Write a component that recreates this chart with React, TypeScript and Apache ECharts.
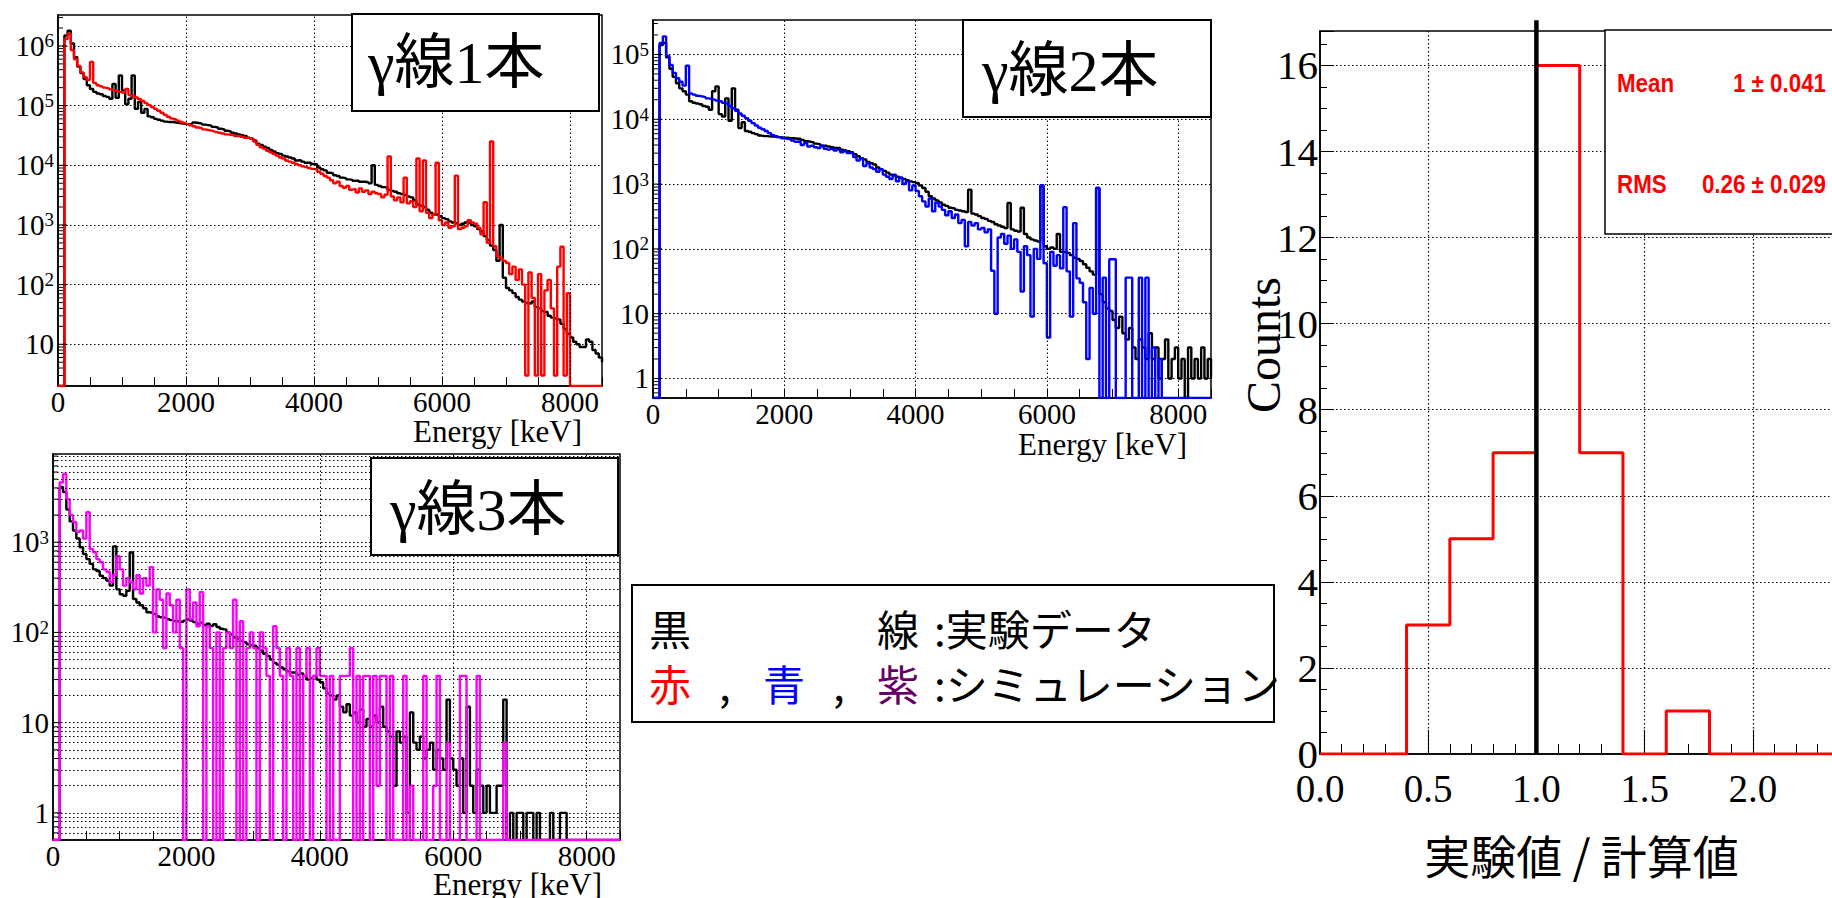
import React, { useEffect, useRef } from "react";
import * as echarts from "echarts";

// ---------------- data ----------------
const BIN_WIDTH = 50; // keV, bin lower edges 0..8500
const ENERGY_MAX = 8500;
const ENERGY_TICK_STEP = 500;
const ENERGY_LABEL_STEP = 2000;
const ENERGY_GRID = [2000, 4000, 6000, 8000];

// γ線1本 : experiment (black) / simulation (red)
const EXP1 = [
  0, 0, 1.5e6, 1.8e6, 1.1e6, 6.5e5, 4.5e5, 3.5e5, 2.8e5, 2.2e5, 1.9e5, 1.7e5, 1.6e5, 1.55e5, 1.45e5, 1.4e5, 1.3e5, 2.3e5, 1.35e5, 3.2e5,
  1.8e5, 1.05e5, 1.3e5, 3.2e5, 8.8e4, 1.15e5, 7.6e4, 8.8e4, 6.6e4, 6.4e4, 6.0e4, 5.8e4, 5.6e4, 5.4e4, 5.3e4, 5.3e4, 5.2e4, 5.1e4, 5.0e4, 4.9e4,
  4.9e4, 4.9e4, 5.2e4, 5.1e4, 5.0e4, 4.8e4, 4.7e4, 4.6e4, 4.4e4, 4.3e4, 4.1e4, 4.0e4, 3.8e4, 3.7e4, 3.5e4, 3.4e4, 3.3e4, 3.2e4, 3.1e4, 2.9e4,
  2.8e4, 2.6e4, 2.3e4, 2.2e4, 2.05e4, 1.95e4, 1.8e4, 1.7e4, 1.6e4, 1.55e4, 1.45e4, 1.4e4, 1.35e4, 1.3e4, 1.2e4, 1.22e4, 1.15e4, 1.1e4, 1.1e4, 1.05e4,
  1.03e4, 9.2e3, 8.6e3, 8.2e3, 7.5e3, 7.3e3, 6.8e3, 6.6e3, 6.2e3, 6.1e3, 5.8e3, 5.7e3, 5.5e3, 5.5e3, 5.3e3, 5.3e3, 5.2e3, 5.0e3, 1.0e4, 4.7e3,
  4.5e3, 4.3e3, 4.2e3, 3.9e3, 3.7e3, 3.6e3, 3.4e3, 3.3e3, 3.2e3, 3.0e3, 2.9e3, 2.6e3, 2.2e3, 2.1e3, 2.0e3, 1.8e3, 1.6e3, 1.5e3, 1.5e3, 1.4e3,
  1.3e3, 1.25e3, 1.15e3, 1.1e3, 1.07e3, 1.0e3, 1.05e3, 1.1e3, 1.1e3, 1.0e3, 950, 850, 780, 650, 560, 450, 380, 250, 1000, 130,
  88, 80, 72, 62, 56, 52, 49, 48, 52, 42, 40, 36, 35, 30, 28, 27, 26, 22, 18, 15,
  13, 11, 10, 9, 9, 12, 11, 8, 7, 6, 5,
];
const SIM1 = [
  0, 0, 1.3e6, 1.6e6, 8.5e5, 6.0e5, 4.6e5, 3.6e5, 3.0e5, 2.7e5, 5.4e5, 2.4e5, 2.2e5, 2.1e5, 2.0e5, 1.95e5, 1.87e5, 1.8e5, 1.75e5, 1.7e5,
  1.65e5, 1.9e5, 1.5e5, 1.45e5, 1.37e5, 1.28e5, 1.2e5, 1.1e5, 1.02e5, 9.5e4, 8.8e4, 8.2e4, 7.6e4, 7.0e4, 6.5e4, 6.1e4, 5.9e4, 5.6e4, 5.3e4, 5.1e4,
  4.9e4, 4.7e4, 4.5e4, 4.3e4, 4.2e4, 4.0e4, 3.9e4, 3.8e4, 3.7e4, 3.6e4, 3.5e4, 3.4e4, 3.3e4, 3.25e4, 3.2e4, 3.1e4, 3.1e4, 3.0e4, 2.9e4, 2.85e4,
  2.8e4, 2.5e4, 2.2e4, 2.0e4, 1.9e4, 1.75e4, 1.65e4, 1.55e4, 1.45e4, 1.35e4, 1.3e4, 1.2e4, 1.15e4, 1.1e4, 1.05e4, 1.0e4, 9.6e3, 9.3e3, 9.0e3, 8.7e3,
  8.5e3, 7.8e3, 7.2e3, 6.6e3, 6.2e3, 5.6e3, 5.0e3, 5.3e3, 4.5e3, 4.2e3, 4.5e3, 3.9e3, 4.0e3, 3.5e3, 4.1e3, 3.6e3, 3.8e3, 3.3e3, 3.6e3, 3.4e3,
  3.3e3, 2.9e3, 3.2e3, 1.4e4, 3.0e3, 2.6e3, 2.9e3, 2.4e3, 6.2e3, 2.3e3, 2.5e3, 2.0e3, 1.3e4, 1.7e3, 1.2e4, 1.6e3, 1.3e3, 1.5e3, 1.1e4, 1.2e3,
  1.0e3, 1.1e3, 900, 950, 6.7e3, 850, 900, 950, 1.2e3, 1.1e3, 1.05e3, 900, 700, 2.4e3, 500, 2.5e4, 440, 300, 280, 250,
  230, 150, 200, 120, 180, 100, 3, 160, 60, 3, 150, 3, 80, 120, 40, 3, 200, 430, 3, 72,
  0, 0, 0, 0, 0, 0, 0, 0, 0, 0, 0,
];

// γ線2本 : experiment (black) / simulation (blue)
const EXP2 = [
  0, 0, 1.4e5, 1.5e5, 9.0e4, 6.0e4, 4.5e4, 3.6e4, 3.0e4, 2.7e4, 2.4e4, 1.9e4, 1.8e4, 1.75e4, 1.7e4, 1.6e4, 1.56e4, 1.4e4, 2.7e4, 3.2e4,
  1.2e4, 1.1e4, 2.1e4, 9.5e3, 3.0e4, 1.4e4, 7.3e3, 9.0e3, 6.6e3, 6.4e3, 6.1e3, 5.9e3, 5.6e3, 5.5e3, 5.5e3, 5.4e3, 5.4e3, 5.3e3, 5.3e3, 5.2e3,
  5.2e3, 5.1e3, 5.1e3, 5.0e3, 5.0e3, 4.8e3, 4.6e3, 4.5e3, 4.4e3, 4.2e3, 4.1e3, 3.9e3, 3.9e3, 3.8e3, 3.7e3, 3.6e3, 3.6e3, 3.4e3, 3.3e3, 3.2e3,
  3.1e3, 2.9e3, 2.7e3, 2.5e3, 2.4e3, 2.2e3, 2.1e3, 2.0e3, 1.8e3, 1.7e3, 1.6e3, 1.5e3, 1.4e3, 1.35e3, 1.3e3, 1.25e3, 1.2e3, 1.15e3, 1.1e3, 1.07e3,
  1040, 950, 870, 760, 650, 600, 560, 520, 480, 460, 430, 420, 400, 390, 380, 370, 820, 350, 340, 320,
  300, 290, 270, 260, 240, 230, 220, 210, 510, 200, 190, 185, 430, 170, 150, 140, 135, 130, 920, 110,
  100, 105, 100, 170, 90, 88, 86, 80, 73, 70, 65, 58, 51, 45, 40, 870, 20, 15, 12, 11,
  8, 6, 9, 5, 4, 6, 3, 2, 4, 3, 2, 5, 2, 3, 1, 2, 4, 1, 2, 3,
  1, 2, 0, 3, 1, 2, 1, 3, 1, 2, 1,
];
const SIM2 = [
  0, 0, 1.5e5, 1.9e5, 9.5e4, 6.9e4, 5.2e4, 4.3e4, 3.8e4, 3.3e4, 6.7e4, 2.5e4, 2.4e4, 2.3e4, 2.25e4, 2.2e4, 2.1e4, 2.05e4, 2.0e4, 1.95e4,
  1.9e4, 1.8e4, 1.75e4, 1.6e4, 1.48e4, 1.35e4, 1.23e4, 1.13e4, 1.04e4, 9.5e3, 8.7e3, 8.0e3, 7.4e3, 7.0e3, 6.6e3, 6.1e3, 5.7e3, 5.5e3, 5.3e3, 5.1e3,
  5.0e3, 4.9e3, 4.7e3, 4.5e3, 4.6e3, 4.0e3, 4.3e3, 3.8e3, 3.9e3, 3.7e3, 3.6e3, 3.9e3, 3.5e3, 3.4e3, 3.5e3, 3.3e3, 3.4e3, 3.1e3, 3.2e3, 3.0e3,
  3.0e3, 2.6e3, 2.3e3, 2.5e3, 1.9e3, 2.1e3, 1.8e3, 1.7e3, 1.55e3, 1.7e3, 1.4e3, 1.3e3, 1.2e3, 1.4e3, 1.1e3, 1.25e3, 1.0e3, 1.1e3, 800, 950,
  780, 650, 540, 450, 600, 380, 520, 450, 400, 330, 380, 300, 340, 250, 280, 110, 260, 230, 250, 200,
  210, 180, 200, 46, 10, 150, 170, 120, 160, 100, 140, 90, 22, 110, 80, 9, 100, 70, 960, 60,
  4.3, 90, 55, 80, 50, 440, 45, 9, 250, 35, 30, 15, 2, 25, 10, 870, 0, 36, 0, 69,
  69, 0, 0, 0, 36, 36, 0, 0, 36, 0, 36, 0, 3, 0, 2, 0, 0, 0, 0, 0,
  0, 0, 0, 0, 0, 0, 0, 0, 0, 0, 0,
];

// γ線3本 : experiment (black) / simulation (magenta)
const EXP3 = [
  0, 0, 4100, 3600, 2300, 1700, 1350, 1100, 880, 740, 650, 575, 500, 480, 425, 400, 375, 330, 900, 300,
  265, 255, 290, 770, 235, 215, 200, 185, 167, 165, 160, 150, 147, 145, 140, 137, 134, 132, 130, 135,
  140, 135, 130, 125, 128, 120, 125, 118, 123, 115, 110, 108, 100, 95, 88, 85, 81, 78, 74, 72,
  71, 67, 63, 58, 55, 50, 46, 44, 41, 39, 37, 36, 36, 34, 35, 33, 30, 31, 33, 30,
  28, 24, 21, 20, 18, 20, 15, 13, 16, 12, 13, 10, 14, 9, 11, 9, 12, 10, 15, 9,
  8, 7, 2, 8, 6, 7, 1, 13, 6, 5, 7, 4, 5, 6, 3, 5, 4, 3, 18, 4,
  3, 2, 4, 1, 15, 2, 1, 3, 2, 1, 2, 1, 1, 2, 2, 18, 0, 1, 0, 1,
  1, 0, 1, 1, 0, 1, 0, 0, 0, 1, 0, 0, 1, 1, 0, 0, 0, 0, 0, 0,
  0, 0, 0, 0, 0, 0, 0, 0, 0, 0, 0,
];
const SIM3 = [
  0, 0, 4600, 5700, 3000, 2000, 1670, 1300, 1350, 1100, 2150, 840, 775, 650, 600, 500, 470, 360, 430, 700,
  500, 330, 400, 360, 300, 430, 270, 400, 330, 530, 100, 300, 230, 67, 270, 200, 100, 230, 67, 0,
  300, 140, 215, 117, 280, 0, 117, 67, 0, 100, 0, 67, 100, 67, 230, 0, 133, 0, 67, 100,
  67, 0, 100, 67, 33, 0, 117, 67, 33, 0, 67, 33, 0, 67, 0, 33, 67, 0, 33, 67,
  33, 33, 0, 33, 0, 0, 33, 33, 33, 67, 0, 33, 0, 33, 33, 0, 33, 2, 33, 33,
  0, 33, 0, 0, 0, 33, 0, 2, 0, 0, 0, 33, 0, 0, 2, 33, 0, 0, 6, 0,
  0, 0, 33, 33, 0, 0, 0, 33, 0, 0, 0, 0, 0, 0, 0, 6, 0, 0, 0, 0,
  0, 0, 0, 0, 0, 0, 0, 0, 0, 0, 0, 0, 0, 0, 0, 0, 0, 0, 0, 0,
  0, 0, 0, 0, 0, 0, 0, 0, 0, 0, 0,
];

const Y_RANGE_1 = [2, 3.3e6];
const Y_RANGE_2 = [0.5, 3.4e5];
const Y_RANGE_3 = [0.5, 9.5e3];

// 実験値 / 計算値 histogram
const RATIO_BIN_WIDTH = 0.2;
const RATIO_COUNTS = [0, 0, 3, 5, 7, 16, 7, 0, 1, 0, 0, 0, 0];
const RATIO_X_MAX = 2.5;
const RATIO_X_INTERVAL = 0.5;
const COUNTS_MAX = 16.8;
const COUNTS_INTERVAL = 2;
const REFERENCE_X = 1.0;
const REFERENCE_TOP = 17.05;
const STAT_MEAN = "1 ± 0.041";
const STAT_RMS = "0.26 ± 0.029";

// ---------------- styles ----------------
const SERIF = "'Liberation Serif', 'Times New Roman', serif";
const GOTHIC = "'Noto Sans CJK JP', 'Noto Sans', sans-serif";
const MIXED = "'Liberation Serif', 'Noto Sans CJK JP', serif";
const SANS = "'Liberation Sans', Arial, sans-serif";
const DOTS = [1.5, 2.5];
const SPECTRUM_WIDTH = 2.4;

const PANELS = [
  {
    grid: { left: 58, top: 15, width: 544, height: 371 },
    exp: EXP1, sim: SIM1, color: "#ff0000", yRange: Y_RANGE_1, title: "γ線1本",
    box: { x: 352, y: 14, w: 247, h: 97 }, titleX: 368, titleY: 63,
    nameX: 582, nameY: 416, minorGrid: false,
  },
  {
    grid: { left: 653, top: 20, width: 558, height: 378 },
    exp: EXP2, sim: SIM2, color: "#0000ff", yRange: Y_RANGE_2, title: "γ線2本",
    box: { x: 963, y: 20, w: 248, h: 97 }, titleX: 982, titleY: 71,
    nameX: 1187, nameY: 429, minorGrid: false,
  },
  {
    grid: { left: 53, top: 454, width: 567, height: 386 },
    exp: EXP3, sim: SIM3, color: "#ff00ff", yRange: Y_RANGE_3, title: "γ線3本",
    box: { x: 371, y: 458, w: 247, h: 97 }, titleX: 390, titleY: 510,
    nameX: 602, nameY: 869, minorGrid: true,
  },
];
const HIST_GRID = { left: 1320, top: 31, width: 541, height: 723 };

function isPow10(v: number) {
  const l = Math.log10(v);
  return Math.abs(l - Math.round(l)) < 1e-6;
}
function logTicks(min: number, max: number) {
  const out: number[] = [];
  for (let d = Math.floor(Math.log10(min)); d <= Math.ceil(Math.log10(max)); d++) {
    for (let m = 1; m <= 9; m++) {
      const v = m * Math.pow(10, d);
      if (v > min * 1.0001 && v < max * 0.9999) out.push(v);
    }
  }
  return out;
}
function logLabel(v: number) {
  if (!isPow10(v)) return "";
  const e = Math.round(Math.log10(v));
  if (e === 0) return "{b|1}";
  if (e === 1) return "{b|10}";
  return `{b|10}{s|${e}}`;
}
function spectrum(counts: number[], floor: number) {
  return counts.map((c, i) => [i * BIN_WIDTH, c > floor ? c : floor]);
}

function buildOption() {
  const grid: any[] = [];
  const xAxis: any[] = [];
  const yAxis: any[] = [];
  const series: any[] = [];
  const graphic: any[] = [];

  PANELS.forEach((p, g) => {
    grid.push({ ...p.grid, show: true, borderColor: "#000", borderWidth: 1.5, backgroundColor: "#fff" });
    xAxis.push({
      gridIndex: g, type: "value", min: 0, max: ENERGY_MAX, interval: ENERGY_TICK_STEP,
      axisLine: { show: true, lineStyle: { color: "#000", width: 1.5 } },
      axisTick: { show: true, inside: true, length: 9, lineStyle: { color: "#000", width: 1 } },
      axisLabel: {
        formatter: (v: number) => (v % ENERGY_LABEL_STEP === 0 ? String(v) : ""),
        fontFamily: SERIF, fontSize: 29, lineHeight: 29, color: "#000", margin: 1,
      },
      splitLine: { show: false },
    });
    yAxis.push({
      gridIndex: g, type: "log", logBase: 10, min: p.yRange[0], max: p.yRange[1],
      axisLine: { show: true, lineStyle: { color: "#000", width: 1.5 } },
      axisTick: { show: false },
      axisLabel: {
        formatter: logLabel, margin: 4,
        rich: {
          b: { fontFamily: SERIF, fontSize: 29, color: "#000", lineHeight: 29, verticalAlign: "bottom" },
          s: { fontFamily: SERIF, fontSize: 19, color: "#000", lineHeight: 19, verticalAlign: "top", padding: [0, 0, 14, 0] },
        },
      },
      splitLine: { show: true, showMinLine: false, showMaxLine: false, lineStyle: { color: "#000", type: DOTS, width: 1 } },
    });

    const ticks = logTicks(p.yRange[0], p.yRange[1]);
    const markData: any[] = ENERGY_GRID.map((x) => ({ xAxis: x }));
    if (p.minorGrid) ticks.filter((v) => !isPow10(v)).forEach((v) => markData.push({ yAxis: v }));

    series.push({
      type: "line", xAxisIndex: g, yAxisIndex: g, z: 1, silent: true,
      data: [[0, p.yRange[0]]], symbol: "none", lineStyle: { width: 0 },
      markLine: {
        silent: true, symbol: ["none", "none"], label: { show: false },
        lineStyle: { color: "#000", type: DOTS, width: 1 }, data: markData,
      },
    });
    series.push({
      name: "実験データ", type: "line", xAxisIndex: g, yAxisIndex: g, z: 2, step: "end",
      symbol: "none", lineStyle: { color: "#000", width: SPECTRUM_WIDTH }, data: spectrum(p.exp, p.yRange[0]),
    });
    series.push({
      name: "シミュレーション", type: "line", xAxisIndex: g, yAxisIndex: g, z: 3, step: "end",
      symbol: "none", lineStyle: { color: p.color, width: SPECTRUM_WIDTH }, data: spectrum(p.sim, p.yRange[0]),
    });
    series.push({
      type: "custom", xAxisIndex: g, yAxisIndex: g, z: 4, silent: true,
      data: ticks.map((v) => [0, v]), encode: { x: 0, y: 1 },
      renderItem: (_params: any, api: any) => {
        const v = api.value(1);
        const pt = api.coord([0, v]);
        const len = isPow10(v) ? 9 : 5;
        return {
          type: "line",
          shape: { x1: pt[0], y1: pt[1], x2: pt[0] + len, y2: pt[1] },
          style: { stroke: "#000", lineWidth: 1 },
        };
      },
    });

    graphic.push({
      type: "rect", z: 100,
      shape: { x: p.box.x, y: p.box.y, width: p.box.w, height: p.box.h },
      style: { fill: "#fff", stroke: "#000", lineWidth: 2 },
    });
    graphic.push({
      type: "text", z: 101, x: p.titleX, y: p.titleY,
      style: { text: p.title, fontFamily: MIXED, fontSize: 60, fill: "#000", verticalAlign: "middle", align: "left" },
    });
    graphic.push({
      type: "text", z: 101, x: p.nameX, y: p.nameY,
      style: { text: "Energy [keV]", fontFamily: SERIF, fontSize: 31, lineHeight: 31, fill: "#000", align: "right", verticalAlign: "top" },
    });
  });

  // ratio histogram
  const h = 3;
  grid.push({ ...HIST_GRID, show: true, borderColor: "#000", borderWidth: 1.5, backgroundColor: "#fff" });
  xAxis.push({
    gridIndex: h, type: "value", min: 0, max: RATIO_X_MAX, interval: RATIO_X_INTERVAL,
    axisLine: { show: true, lineStyle: { color: "#000", width: 1.5 } },
    axisTick: { show: true, inside: true, length: 24, lineStyle: { color: "#000", width: 1 } },
    minorTick: { show: true, splitNumber: 5, length: 10, lineStyle: { color: "#000", width: 1 } },
    axisLabel: {
      formatter: (v: number) => v.toFixed(1), showMaxLabel: false,
      fontFamily: SERIF, fontSize: 39, color: "#000", margin: 15,
    },
    splitLine: { show: true, showMinLine: false, lineStyle: { color: "#000", type: DOTS, width: 1.2 } },
    name: "実験値 / 計算値", nameLocation: "middle", nameGap: 77,
    nameTextStyle: { fontFamily: GOTHIC, fontSize: 46, color: "#000", padding: [0, 18, 0, 0] },
  });
  yAxis.push({
    gridIndex: h, type: "value", min: 0, max: COUNTS_MAX, interval: COUNTS_INTERVAL,
    axisLine: { show: true, lineStyle: { color: "#000", width: 1.5 } },
    axisTick: { show: true, inside: true, length: 14, lineStyle: { color: "#000", width: 1 } },
    minorTick: { show: true, splitNumber: 4, length: 7, lineStyle: { color: "#000", width: 1 } },
    axisLabel: {
      formatter: (v: number) => (Number.isInteger(v) ? String(v) : ""),
      showMaxLabel: false, fontFamily: SERIF, fontSize: 41, color: "#000", margin: 2,
    },
    splitLine: { show: true, showMinLine: false, showMaxLine: false, lineStyle: { color: "#000", type: DOTS, width: 1.2 } },
  });
  series.push({
    name: "実験値 / 計算値", type: "line", xAxisIndex: h, yAxisIndex: h, step: "end", symbol: "none", z: 3,
    lineStyle: { color: "#ff0000", width: 3 },
    data: [
      ...RATIO_COUNTS.map((c, i) => [i * RATIO_BIN_WIDTH, c]),
      [RATIO_COUNTS.length * RATIO_BIN_WIDTH, 0],
    ],
  });
  series.push({
    type: "line", xAxisIndex: h, yAxisIndex: h, symbol: "none", clip: false, z: 4, silent: true,
    lineStyle: { color: "#000", width: 4.5 },
    data: [[REFERENCE_X, 0], [REFERENCE_X, REFERENCE_TOP]],
  });

  const statStyle = { fontFamily: SANS, fontWeight: "bold", fontSize: 26, fill: "#ff0000", verticalAlign: "middle" };
  graphic.push(
    {
      type: "text", z: 101, x: 1263, y: 345, rotation: Math.PI / 2,
      style: { text: "Counts", fontFamily: SERIF, fontSize: 48, fill: "#000", align: "center", verticalAlign: "middle" },
    },
    {
      type: "rect", z: 100, shape: { x: 1605, y: 30, width: 260, height: 204 },
      style: { fill: "#fff", stroke: "#000", lineWidth: 1.5 },
    },
    { type: "text", z: 101, x: 1617, y: 83, scaleX: 0.86, style: { ...statStyle, text: "Mean", align: "left" } },
    { type: "text", z: 101, x: 1826, y: 83, scaleX: 0.86, style: { ...statStyle, text: STAT_MEAN, align: "right" } },
    { type: "text", z: 101, x: 1617, y: 184, scaleX: 0.86, style: { ...statStyle, text: "RMS", align: "left" } },
    { type: "text", z: 101, x: 1826, y: 184, scaleX: 0.86, style: { ...statStyle, text: STAT_RMS, align: "right" } },
    // legend box
    {
      type: "rect", z: 100, shape: { x: 632, y: 585, width: 642, height: 137 },
      style: { fill: "#fff", stroke: "#000", lineWidth: 2 },
    },
    { type: "text", z: 101, x: 649, y: 627, style: { text: "黒", fontFamily: GOTHIC, fontSize: 42, fill: "#000", verticalAlign: "middle" } },
    { type: "text", z: 101, x: 877, y: 627, style: { text: "線", fontFamily: GOTHIC, fontSize: 42, fill: "#000", verticalAlign: "middle" } },
    { type: "text", z: 101, x: 934, y: 627, style: { text: ":実験データ", fontFamily: GOTHIC, fontSize: 42, fill: "#000", verticalAlign: "middle" } },
    { type: "text", z: 101, x: 649, y: 682, style: { text: "赤", fontFamily: GOTHIC, fontSize: 42, fill: "#ff0000", verticalAlign: "middle" } },
    { type: "text", z: 101, x: 719, y: 682, style: { text: ",", fontFamily: GOTHIC, fontSize: 42, fill: "#000", verticalAlign: "middle" } },
    { type: "text", z: 101, x: 763, y: 682, style: { text: "青", fontFamily: GOTHIC, fontSize: 42, fill: "#0000ff", verticalAlign: "middle" } },
    { type: "text", z: 101, x: 833, y: 682, style: { text: ",", fontFamily: GOTHIC, fontSize: 42, fill: "#000", verticalAlign: "middle" } },
    { type: "text", z: 101, x: 877, y: 682, style: { text: "紫", fontFamily: GOTHIC, fontSize: 42, fill: "#660066", verticalAlign: "middle" } },
    { type: "text", z: 101, x: 934, y: 682, style: { text: ":シミュレーション", fontFamily: GOTHIC, fontSize: 42, fill: "#000", verticalAlign: "middle" } },
  );

  return { animation: false, backgroundColor: "#fff", grid, xAxis, yAxis, series, graphic };
}

export default function App() {
  const ref = useRef<HTMLDivElement>(null);
  useEffect(() => {
    if (!ref.current) return;
    const chart = echarts.init(ref.current, undefined, { renderer: "svg" });
    chart.setOption(buildOption() as any);
    return () => chart.dispose();
  }, []);
  return (
    <div style={{ position: "absolute", left: 0, top: 0, width: 1832, height: 898, overflow: "hidden", background: "#fff" }}>
      <div ref={ref} style={{ width: 1880, height: 898 }} />
    </div>
  );
}
